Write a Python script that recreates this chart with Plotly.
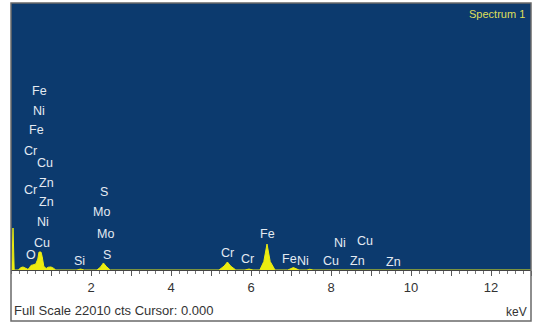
import plotly.graph_objects as go

# EDS spectrum outline: energy (keV) and counts
energy_kev = [0.00, 0.02, 0.05, 0.08, 0.18, 0.25, 0.30, 0.36, 0.42, 0.45, 0.50, 0.55,
              0.62, 0.67, 0.70, 0.75, 0.78, 0.82, 0.88, 0.93, 1.00, 1.06, 1.12,
              1.65, 1.74, 1.83, 2.15, 2.24, 2.31, 2.38, 2.48,
              5.20, 5.33, 5.41, 5.49, 5.62, 5.85, 5.95, 6.05,
              6.22, 6.32, 6.40, 6.48, 6.60, 6.92, 7.06, 7.20, 7.40, 7.47, 7.55, 13.0]
counts = [0, 0, 3460, 0, 0, 200, 250, 150, 60, 120, 380, 420,
          500, 900, 1480, 1480, 1100, 300, 120, 230, 250, 150, 0,
          0, 80, 0, 0, 250, 580, 300, 0,
          0, 330, 660, 330, 0, 0, 80, 0,
          0, 700, 2140, 700, 0, 0, 200, 0, 0, 60, 0, 0]

# Element markers: symbol, energy (keV), label height (counts)
label_text = ["Fe", "Ni", "Fe", "Cr", "Cu", "Cr", "Zn", "Zn", "Ni", "Cu", "O",
              "Si", "S", "Mo", "Mo", "S",
              "Cr", "Cr", "Fe", "Fe", "Ni", "Ni", "Cu", "Cu", "Zn", "Zn"]
label_kev = [0.71, 0.71, 0.63, 0.48, 0.85, 0.48, 0.89, 0.88, 0.79, 0.77, 0.49,
             1.71, 2.33, 2.27, 2.35, 2.40,
             5.41, 5.90, 6.42, 6.97, 7.30, 8.22, 8.84, 8.01, 8.66, 9.57]
label_counts = [14750, 13100, 11530, 9780, 8820, 6590, 7170, 5630, 3960, 2230, 1240,
                740, 6430, 4780, 2970, 1240,
                1430, 880, 2940, 910, 740, 2200, 2390, 770, 740, 700]

full_scale = 22010
kev_max = 13.0
x_tick_vals = list(range(1, 14))
x_tick_text = [str(v) if v % 2 == 0 else "" for v in x_tick_vals]

fig = go.Figure()
fig.add_trace(go.Scatter(
    x=energy_kev, y=counts, mode="lines", fill="tozeroy",
    line=dict(color="#ecec10", width=1), fillcolor="#ecec10",
    hoverinfo="skip", showlegend=False,
))

annotations = []
for t, xv, yv in zip(label_text, label_kev, label_counts):
    annotations.append(dict(
        x=xv, y=yv, xref="x", yref="y", text=t, showarrow=False,
        font=dict(family="Liberation Sans, Arial, sans-serif", size=12.5, color="#e4eaf2"),
        xanchor="center", yanchor="middle",
    ))

annotations += [
    dict(x=0.992, y=0.959, xref="paper", yref="paper", text="Spectrum 1",
         showarrow=False, xanchor="right", yanchor="middle",
         font=dict(family="Liberation Sans, Arial, sans-serif", size=11, color="#dede5a")),
    dict(x=0.002, y=-0.150, xref="paper", yref="paper",
         text="Full Scale 22010 cts Cursor: 0.000", showarrow=False,
         xanchor="left", yanchor="middle",
         font=dict(family="Liberation Sans, Arial, sans-serif", size=13, color="#333333")),
    dict(x=0.996, y=-0.157, xref="paper", yref="paper", text="keV",
         showarrow=False, xanchor="right", yanchor="middle",
         font=dict(family="Liberation Sans, Arial, sans-serif", size=12, color="#333333")),
]

fig.update_layout(
    width=536, height=327,
    margin=dict(l=11, r=5, t=3, b=57),
    paper_bgcolor="white", plot_bgcolor="#0c3a6e",
    annotations=annotations,
    shapes=[dict(type="rect", xref="paper", yref="paper", x0=0, x1=1, y0=-0.191, y1=1,
                 line=dict(color="#6a6a6a", width=1.5), layer="above")],
    xaxis=dict(
        range=[0, kev_max], showgrid=False, zeroline=False,
        tickmode="array", tickvals=x_tick_vals, ticktext=x_tick_text,
        ticks="outside", ticklen=5, tickcolor="#555555", tickwidth=1,
        minor=dict(dtick=0.2, ticks="outside", ticklen=3, tickcolor="#777777", showgrid=False),
        showline=True, linecolor="#444444", linewidth=1,
        tickfont=dict(family="Liberation Sans, Arial, sans-serif", size=13, color="#333333"),
    ),
    yaxis=dict(range=[0, full_scale], showgrid=False, zeroline=False,
               showticklabels=False, ticks=""),
)

fig.write_html("out.html")
